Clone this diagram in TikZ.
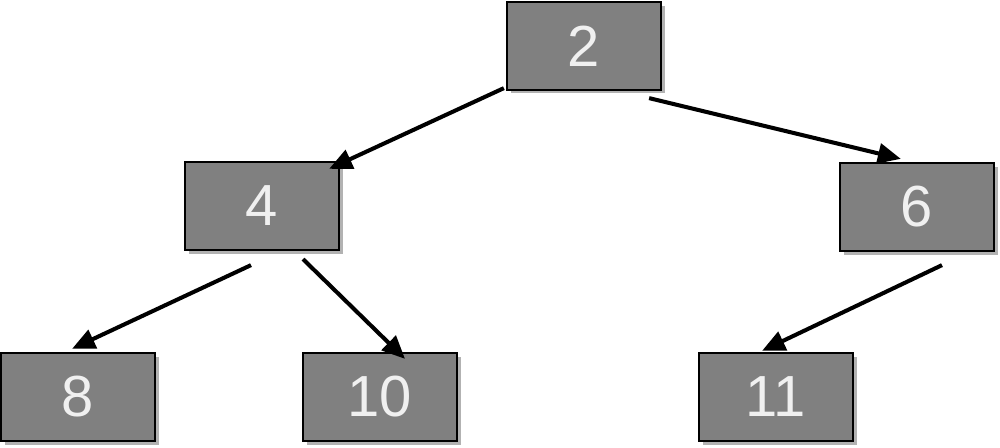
\documentclass[tikz,border=0pt]{standalone}
\usepackage{fontspec}
\setmainfont{Liberation Sans}
\usepackage{xcolor}
\usepackage{tikz}
\usetikzlibrary{arrows.meta, calc, shadows}
\definecolor{boxgray}{HTML}{808080}

\begin{document}
\begin{tikzpicture}[
  x=0.02cm, y=-0.02cm,
  nd/.style={draw, rectangle, fill=boxgray, line width=1.3pt, minimum width=3.08cm, minimum height=1.76cm,
    text=white!94!black, font=\fontsize{33}{38}\selectfont,
    drop shadow={shadow xshift=2pt, shadow yshift=-2pt, opacity=0.3, fill=black}},
  edg/.style={-{Triangle[length=0.46cm, width=0.4cm]}, line width=2.3pt},
]
\useasboundingbox (0,0) rectangle (1000,448);
% ── tree nodes ──
\node[nd] (n2)  at (584,46)  {2};
\node[nd] (n4)  at (262,206) {4};
\node[nd] (n6)  at (917,207) {6};
\node[nd] (n8)  at (78,397)  {8};
\node[nd] (n10) at (380,397) {10};
\node[nd] (n11) at (776,397) {11};

% ── edges ──
\draw[edg] ($(n2.south west)+(-2,-3)$) -- ($(n4.north east)+(-11,8)$);
\draw[edg] ($(n2.south east)+(-13,7)$) -- ($(n6.north west)+(62,-3)$);
\draw[edg] ($(n4.south)+(-11,14)$) -- ($(n8.north)+(-6,-3)$);
\draw[edg] ($(n4.south)+(41,8)$) -- ($(n10.north)+(25,7)$);
\draw[edg] ($(n6.south)+(25,13)$) -- ($(n11.north)+(-14,-1)$);
\end{tikzpicture}
\end{document}
